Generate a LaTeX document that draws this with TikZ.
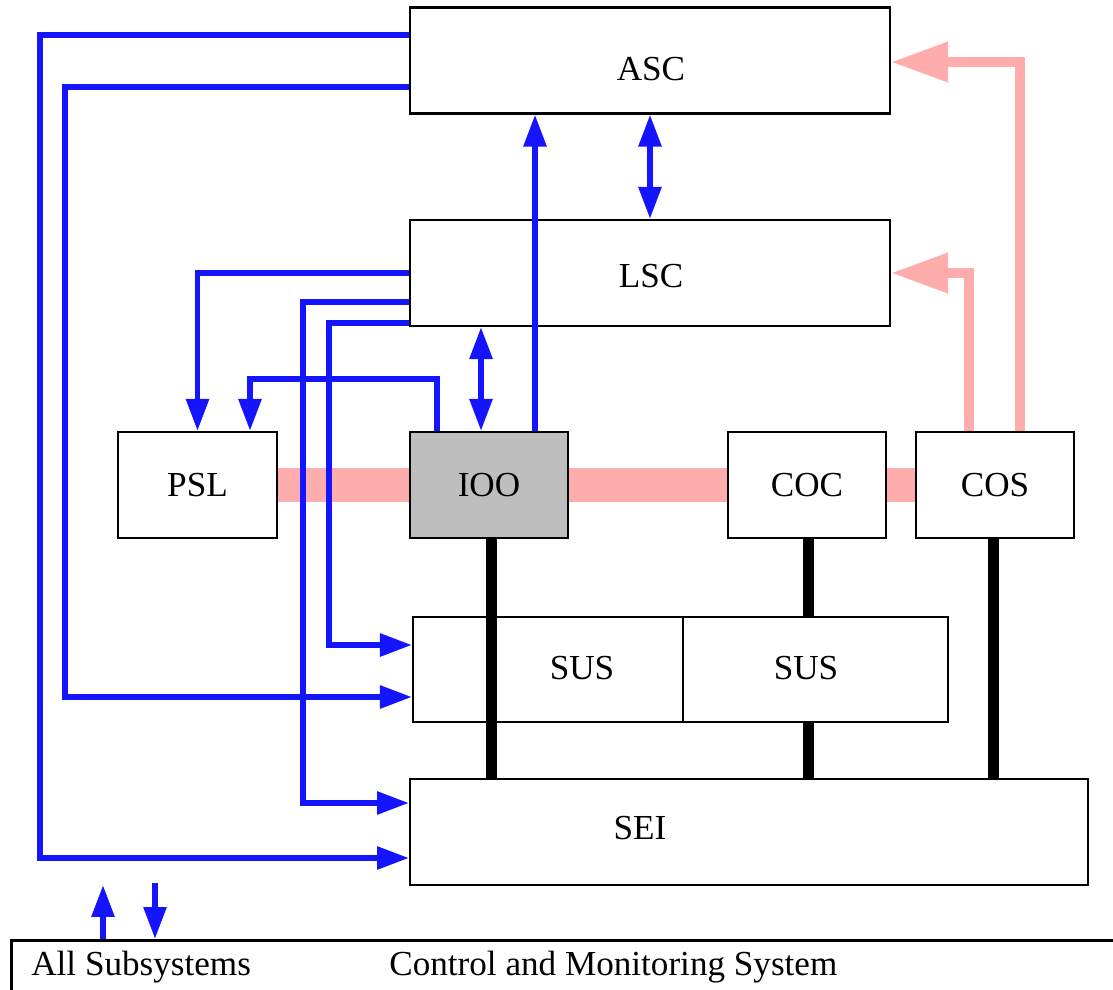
\documentclass[tikz,border=0pt]{standalone}
\usepackage{fontspec}
\setmainfont{Liberation Serif}
\usetikzlibrary{arrows.meta,backgrounds}
\definecolor{cmsBlue}{RGB}{20,20,255}
\definecolor{cmsPink}{RGB}{255,172,172}
\definecolor{cmsGray}{RGB}{190,190,190}
\begin{document}
\begin{tikzpicture}
% Control and monitoring block diagram, one unit = one pixel
\def\pxsz{0.02cm}
\providecommand{\cmsBoxLineWidth}{1.2pt}
\providecommand{\cmsSigLineWidth}{3.3pt}
\providecommand{\cmsBusLineWidth}{0.22cm}
\tikzset{
  blk/.style={draw, line width=\cmsBoxLineWidth, fill=white, inner sep=0pt,
    minimum height=2.12cm, font=\fontsize{20}{23}\selectfont},
  lbl/.style={inner sep=0pt, font=\fontsize{20}{23}\selectfont},
  sig/.style={draw=cmsBlue, line width=\cmsSigLineWidth,
    -{Triangle[length=0.64cm,width=0.44cm]}},
  sigboth/.style={draw=cmsBlue, line width=\cmsSigLineWidth,
    {Triangle[length=0.64cm,width=0.44cm]}-{Triangle[length=0.64cm,width=0.44cm]}},
  cfg/.style={draw=cmsPink, line width=0.2cm,
    -{Triangle[length=1.14cm,width=0.76cm]}},
  bus/.style={draw=black, line width=\cmsBusLineWidth}
}
\begin{scope}[x=\pxsz, y=-\pxsz]
  \useasboundingbox (0,0) rectangle (1113,990);
  \clip (0,0) rectangle (1113,990);
  % Blocks
  \node[blk, minimum width=9.6cm] (asc) at (650,60.5) {};
  \node[blk, minimum width=9.6cm] (lsc) at (650,273) {};
  \node[blk, minimum width=3.18cm] (psl) at (197.5,485) {PSL};
  \node[blk, minimum width=3.16cm, fill=cmsGray] (ioo) at (489,485) {IOO};
  \node[blk, minimum width=3.16cm] (coc) at (807,485) {COC};
  \node[blk, minimum width=3.16cm] (cos) at (995,485) {COS};
  \node[blk, minimum width=5.4cm, minimum height=2.1cm] (sus1) at (548,669.5) {};
  \node[blk, minimum width=5.3cm, minimum height=2.1cm] (sus2) at (815.5,669.5) {};
  \node[blk, minimum width=13.56cm] (sei) at (749,832) {};
  \node[lbl] (asctxt) at (651,69) {ASC};
  \node[lbl] (lsctxt) at (651,276) {LSC};
  \node[lbl] (sus1txt) at (582,668) {SUS};
  \node[lbl] (sus2txt) at (806,668) {SUS};
  \node[lbl] (seitxt) at (640,828) {SEI};
  % Bottom bar
  \node[draw, line width=0.06cm, inner sep=0pt, minimum width=22.5cm,
    minimum height=1.3cm, anchor=north west] (cms) at (10,939) {};
  \node[lbl, anchor=west] (allsub) at (31,967) {All Subsystems};
  \node[lbl, anchor=west] (cmstxt) at (389,967) {Control and Monitoring System};
  % Pink link behind the blocks
  \begin{pgfonlayer}{background}
    \draw[cmsPink, line width=0.7cm] (psl.east) -- (cos.west);
  \end{pgfonlayer}
  % Thick black links
  \draw[bus] (ioo.south -| 491,0) -- (sei.north -| 491,0);
  \draw[bus] (coc.south -| 808,0) -- (sus2.north -| 808,0);
  \draw[bus] (sus2.south -| 808,0) -- (sei.north -| 808,0);
  \draw[bus] (cos.south -| 993,0) -- (sei.north -| 993,0);
  % Pink arrows from COS
  \draw[cfg] (cos.north -| 1020,0) |- (asc.east |- 0,62);
  \draw[cfg] (cos.north -| 969,0) |- (lsc.east |- 0,273);
  % Blue signals from ASC
  \draw[sig] (asc.west |- 0,35) -| (40,858) -- (sei.west |- 0,858);
  \draw[sig] (asc.west |- 0,87) -| (65,697) -- (sus1.west |- 0,697);
  % Blue signals from LSC
  \draw[sig] (lsc.west |- 0,273) -| (psl.north);
  \draw[sig] (lsc.west |- 0,302) -| (303,803) -- (sei.west |- 0,803);
  \draw[sig] (lsc.west |- 0,323) -| (329,645) -- (sus1.west |- 0,645);
  % Blue signals from IOO
  \draw[sig] (ioo.north -| 437,0) |- (250,379) -- (psl.north -| 250,0);
  \draw[sigboth] (ioo.north -| 481,0) -- (lsc.south -| 481,0);
  \draw[sig] (ioo.north -| 535,0) -- (asc.south -| 535,0);
  \draw[sigboth] (lsc.north) -- (asc.south);
  % Subsystem arrows
  \coordinate (subup) at (103,885);
  \coordinate (subdown) at (155,883);
  \draw[sig] (cms.north -| subup) -- (subup);
  \draw[sig] (subdown) -- (cms.north -| subdown);
\end{scope}
\end{tikzpicture}
\end{document}
